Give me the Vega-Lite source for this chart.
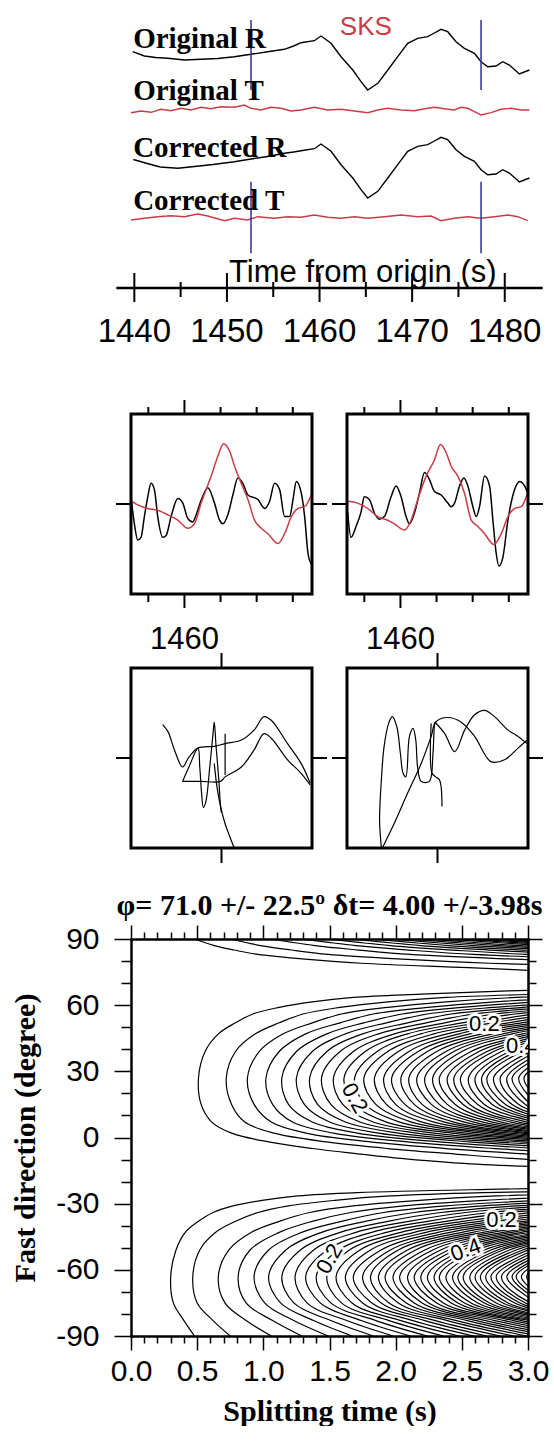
{
"$schema": "https://vega.github.io/schema/vega-lite/v6.json",
"background": "white",
"padding": {"left": 10, "top": 0, "right": 0, "bottom": 0},
"autosize": {"type": "pad"},
"config": {"view": {"stroke": null}, "axis": {"grid": false, "labelColor": "black", "tickColor": "black", "domainColor": "black", "titleColor": "black"}},
"spacing": 0,
"bounds": "flush",
"datasets": {
"traces": [
{"s":"OR","t":1439.83,"v":23.63},{"s":"OR","t":1441.08,"v":23.2},{"s":"OR","t":1442.3,"v":23.05},{"s":"OR","t":1443.61,"v":22.97},{"s":"OR","t":1445.4,"v":22.8},{"s":"OR","t":1447.2,"v":22.87},{"s":"OR","t":1449.0,"v":22.95},{"s":"OR","t":1450.8,"v":23.13},{"s":"OR","t":1452.6,"v":23.37},{"s":"OR","t":1454.41,"v":23.63},{"s":"OR","t":1456.2,"v":23.87},{"s":"OR","t":1457.2,"v":24.2},{"s":"OR","t":1458.0,"v":24.53},{"s":"OR","t":1459.44,"v":24.73},{"s":"OR","t":1460.16,"v":25.2},{"s":"OR","t":1461.24,"v":24.47},{"s":"OR","t":1462.32,"v":23.13},{"s":"OR","t":1463.59,"v":21.8},{"s":"OR","t":1464.48,"v":20.63},{"s":"OR","t":1465.2,"v":19.8},{"s":"OR","t":1466.29,"v":20.47},{"s":"OR","t":1467.37,"v":21.8},{"s":"OR","t":1468.44,"v":23.13},{"s":"OR","t":1469.52,"v":24.47},{"s":"OR","t":1470.6,"v":24.97},{"s":"OR","t":1471.68,"v":25.13},{"s":"OR","t":1472.4,"v":25.5},{"s":"OR","t":1473.12,"v":25.87},{"s":"OR","t":1473.84,"v":25.63},{"s":"OR","t":1474.74,"v":24.63},{"s":"OR","t":1475.64,"v":23.97},{"s":"OR","t":1476.72,"v":23.47},{"s":"OR","t":1477.44,"v":22.63},{"s":"OR","t":1478.16,"v":22.13},{"s":"OR","t":1479.06,"v":22.2},{"s":"OR","t":1479.78,"v":22.63},{"s":"OR","t":1480.5,"v":22.3},{"s":"OR","t":1481.58,"v":21.4},{"s":"OR","t":1482.66,"v":21.8},
{"s":"OT","t":1439.64,"v":17.53},{"s":"OT","t":1440.72,"v":17.7},{"s":"OT","t":1441.8,"v":17.57},{"s":"OT","t":1442.88,"v":17.87},{"s":"OT","t":1443.96,"v":17.73},{"s":"OT","t":1445.04,"v":17.97},{"s":"OT","t":1446.12,"v":17.8},{"s":"OT","t":1447.2,"v":18.07},{"s":"OT","t":1448.28,"v":17.93},{"s":"OT","t":1449.36,"v":18.13},{"s":"OT","t":1450.8,"v":18.07},{"s":"OT","t":1451.88,"v":18.3},{"s":"OT","t":1452.6,"v":17.97},{"s":"OT","t":1453.68,"v":17.8},{"s":"OT","t":1454.76,"v":18.07},{"s":"OT","t":1455.84,"v":17.97},{"s":"OT","t":1456.92,"v":17.7},{"s":"OT","t":1458.0,"v":17.8},{"s":"OT","t":1459.44,"v":18.07},{"s":"OT","t":1460.88,"v":17.8},{"s":"OT","t":1462.32,"v":17.87},{"s":"OT","t":1463.76,"v":17.7},{"s":"OT","t":1465.2,"v":17.53},{"s":"OT","t":1466.28,"v":17.8},{"s":"OT","t":1467.36,"v":17.97},{"s":"OT","t":1468.8,"v":17.8},{"s":"OT","t":1470.24,"v":17.73},{"s":"OT","t":1471.68,"v":17.97},{"s":"OT","t":1472.4,"v":18.07},{"s":"OT","t":1473.48,"v":17.93},{"s":"OT","t":1474.56,"v":17.8},{"s":"OT","t":1475.28,"v":18.07},{"s":"OT","t":1476.0,"v":17.97},{"s":"OT","t":1476.72,"v":17.63},{"s":"OT","t":1477.44,"v":17.3},{"s":"OT","t":1478.52,"v":17.53},{"s":"OT","t":1479.6,"v":17.87},{"s":"OT","t":1480.68,"v":17.97},{"s":"OT","t":1481.76,"v":17.8},{"s":"OT","t":1482.66,"v":17.8},
{"s":"CR","t":1439.9,"v":12.85},{"s":"CR","t":1441.2,"v":12.5},{"s":"CR","t":1442.8,"v":12.1},{"s":"CR","t":1444.69,"v":11.97},{"s":"CR","t":1446.5,"v":12.15},{"s":"CR","t":1448.5,"v":12.35},{"s":"CR","t":1450.8,"v":12.63},{"s":"CR","t":1452.6,"v":12.9},{"s":"CR","t":1454.4,"v":13.15},{"s":"CR","t":1456.2,"v":13.47},{"s":"CR","t":1457.2,"v":13.6},{"s":"CR","t":1458.0,"v":13.73},{"s":"CR","t":1459.44,"v":13.93},{"s":"CR","t":1460.16,"v":14.4},{"s":"CR","t":1461.24,"v":13.67},{"s":"CR","t":1462.32,"v":12.33},{"s":"CR","t":1463.59,"v":11.0},{"s":"CR","t":1464.48,"v":9.83},{"s":"CR","t":1465.2,"v":9.0},{"s":"CR","t":1466.29,"v":9.67},{"s":"CR","t":1467.37,"v":11.0},{"s":"CR","t":1468.44,"v":12.33},{"s":"CR","t":1469.52,"v":13.67},{"s":"CR","t":1470.6,"v":14.17},{"s":"CR","t":1471.68,"v":14.33},{"s":"CR","t":1472.4,"v":14.7},{"s":"CR","t":1473.12,"v":15.07},{"s":"CR","t":1473.84,"v":14.83},{"s":"CR","t":1474.74,"v":13.83},{"s":"CR","t":1475.64,"v":13.17},{"s":"CR","t":1476.72,"v":12.67},{"s":"CR","t":1477.44,"v":11.83},{"s":"CR","t":1478.16,"v":11.33},{"s":"CR","t":1479.06,"v":11.4},{"s":"CR","t":1479.78,"v":11.83},{"s":"CR","t":1480.5,"v":11.5},{"s":"CR","t":1481.58,"v":10.6},{"s":"CR","t":1482.66,"v":11.0},
{"s":"CT","t":1439.64,"v":6.8},{"s":"CT","t":1441.08,"v":6.97},{"s":"CT","t":1442.52,"v":7.13},{"s":"CT","t":1443.96,"v":7.23},{"s":"CT","t":1445.4,"v":7.13},{"s":"CT","t":1446.84,"v":7.4},{"s":"CT","t":1447.92,"v":7.2},{"s":"CT","t":1449.72,"v":6.73},{"s":"CT","t":1450.8,"v":6.97},{"s":"CT","t":1452.24,"v":6.8},{"s":"CT","t":1453.32,"v":7.13},{"s":"CT","t":1455.12,"v":6.97},{"s":"CT","t":1456.56,"v":7.13},{"s":"CT","t":1458.0,"v":7.07},{"s":"CT","t":1459.44,"v":7.3},{"s":"CT","t":1460.88,"v":7.07},{"s":"CT","t":1462.32,"v":6.97},{"s":"CT","t":1463.76,"v":7.13},{"s":"CT","t":1465.2,"v":6.97},{"s":"CT","t":1467.0,"v":7.13},{"s":"CT","t":1468.8,"v":7.3},{"s":"CT","t":1470.6,"v":7.13},{"s":"CT","t":1472.04,"v":7.2},{"s":"CT","t":1473.12,"v":6.73},{"s":"CT","t":1474.56,"v":6.97},{"s":"CT","t":1476.0,"v":7.13},{"s":"CT","t":1477.44,"v":6.97},{"s":"CT","t":1478.88,"v":7.13},{"s":"CT","t":1480.32,"v":7.3},{"s":"CT","t":1481.4,"v":7.13},{"s":"CT","t":1482.48,"v":6.73}
],
"blue": [{"t":1452.6,"v1":26.8,"v2":19.8},{"t":1477.44,"v1":26.8,"v2":19.8},{"t":1452.6,"v1":10.63,"v2":3.47},{"t":1477.44,"v1":10.63,"v2":3.47}],
"axisrange": [{"start":1440,"end":1480,"v":0}],
"tmajor": [{"t":1440},{"t":1450},{"t":1460},{"t":1470},{"t":1480}],
"tminor": [{"t":1445},{"t":1455},{"t":1465},{"t":1475}],
"tlabels": [{"label":"Original R","t":1439.87,"v":24.03},{"label":"Original T","t":1439.87,"v":18.8},{"label":"Corrected R","t":1439.87,"v":13.1},{"label":"Corrected T","t":1439.87,"v":7.8}],
"phase": [{"label":"SKS","t":1465.0,"v":25.3}],
"xtitle": [{"label":"Time from origin (s)","t":1450.23,"v":0.6}],
"win1": [{"t0":1452.6,"t1":1477.66,"a0":-1,"a1":1}],
"r1major": [{"t":1460}],
"r1minor": [{"t":1455},{"t":1465},{"t":1470},{"t":1475}],
"win2": [{"x0":-1,"x1":1,"y0":-1,"y1":1}],
"r1a_k": [{"t":1452.70,"a":0.01},{"t":1453.07,"a":-0.22},{"t":1453.53,"a":-0.40},{"t":1453.99,"a":-0.37},{"t":1454.45,"a":-0.14},{"t":1454.92,"a":0.08},{"t":1455.38,"a":0.23},{"t":1455.84,"a":0.16},{"t":1456.30,"a":-0.14},{"t":1457.00,"a":-0.37},{"t":1457.46,"a":-0.35},{"t":1458.15,"a":-0.14},{"t":1459.08,"a":0.06},{"t":1459.77,"a":0.01},{"t":1460.46,"a":-0.16},{"t":1461.16,"a":-0.20},{"t":1461.62,"a":-0.12},{"t":1462.31,"a":0.04},{"t":1463.24,"a":0.18},{"t":1464.16,"a":0.01},{"t":1464.86,"a":-0.18},{"t":1465.32,"a":-0.22},{"t":1466.01,"a":-0.12},{"t":1466.70,"a":0.10},{"t":1467.40,"a":0.29},{"t":1468.09,"a":0.23},{"t":1468.79,"a":0.10},{"t":1470.17,"a":0.05},{"t":1471.10,"a":-0.05},{"t":1471.79,"a":0.03},{"t":1472.48,"a":0.23},{"t":1473.18,"a":0.16},{"t":1473.87,"a":-0.14},{"t":1474.56,"a":-0.14},{"t":1475.03,"a":0.05},{"t":1475.49,"a":0.25},{"t":1476.18,"a":0.12},{"t":1476.64,"a":-0.14},{"t":1477.11,"a":-0.55},{"t":1477.57,"a":-0.67}],
"r1a_r": [{"t":1452.70,"a":0.03},{"t":1453.53,"a":-0.01},{"t":1454.92,"a":-0.05},{"t":1456.30,"a":-0.07},{"t":1457.69,"a":-0.12},{"t":1459.08,"a":-0.18},{"t":1460.46,"a":-0.27},{"t":1461.39,"a":-0.22},{"t":1462.31,"a":0.01},{"t":1463.70,"a":0.31},{"t":1464.62,"a":0.53},{"t":1465.41,"a":0.67},{"t":1466.24,"a":0.59},{"t":1466.94,"a":0.42},{"t":1467.86,"a":0.23},{"t":1468.79,"a":0.05},{"t":1469.71,"a":-0.18},{"t":1470.63,"a":-0.27},{"t":1471.56,"a":-0.33},{"t":1472.95,"a":-0.44},{"t":1473.87,"a":-0.33},{"t":1474.80,"a":-0.14},{"t":1475.72,"a":-0.05},{"t":1476.64,"a":-0.03},{"t":1477.66,"a":0.12}],
"r1b_k": [{"t":1452.69,"a":-0.09},{"t":1453.15,"a":-0.37},{"t":1453.85,"a":-0.25},{"t":1454.54,"a":-0.09},{"t":1455.00,"a":0.08},{"t":1455.70,"a":0.05},{"t":1456.39,"a":-0.10},{"t":1457.08,"a":-0.17},{"t":1457.78,"a":-0.14},{"t":1458.70,"a":0.08},{"t":1459.40,"a":0.20},{"t":1460.09,"a":0.08},{"t":1460.78,"a":-0.14},{"t":1461.24,"a":-0.22},{"t":1461.94,"a":-0.10},{"t":1462.63,"a":0.12},{"t":1463.33,"a":0.35},{"t":1464.02,"a":0.27},{"t":1464.71,"a":0.14},{"t":1465.64,"a":0.10},{"t":1466.56,"a":0.01},{"t":1467.02,"a":-0.03},{"t":1467.49,"a":0.01},{"t":1468.18,"a":0.20},{"t":1468.78,"a":0.29},{"t":1469.34,"a":0.20},{"t":1470.03,"a":-0.03},{"t":1470.49,"a":-0.14},{"t":1470.95,"a":-0.03},{"t":1471.65,"a":0.31},{"t":1472.34,"a":0.20},{"t":1472.80,"a":-0.18},{"t":1473.26,"a":-0.55},{"t":1473.63,"a":-0.69},{"t":1474.19,"a":-0.59},{"t":1474.88,"a":-0.18},{"t":1475.81,"a":0.16},{"t":1476.50,"a":0.25},{"t":1477.19,"a":0.20},{"t":1477.66,"a":0.12}],
"r1b_r": [{"t":1452.69,"a":0.03},{"t":1454.08,"a":0.01},{"t":1455.47,"a":-0.05},{"t":1456.85,"a":-0.14},{"t":1458.24,"a":-0.18},{"t":1459.16,"a":-0.22},{"t":1460.55,"a":-0.29},{"t":1461.48,"a":-0.18},{"t":1462.40,"a":0.05},{"t":1463.56,"a":0.31},{"t":1464.71,"a":0.49},{"t":1465.54,"a":0.66},{"t":1466.33,"a":0.57},{"t":1467.02,"a":0.42},{"t":1467.95,"a":0.31},{"t":1468.87,"a":0.12},{"t":1469.80,"a":-0.18},{"t":1470.72,"a":-0.25},{"t":1471.65,"a":-0.33},{"t":1472.94,"a":-0.45},{"t":1473.96,"a":-0.33},{"t":1474.88,"a":-0.14},{"t":1475.81,"a":-0.05},{"t":1476.73,"a":-0.03},{"t":1477.66,"a":0.14}],
"r2a": [{"g":"a","o":1,"x":-0.65,"y":0.37},{"g":"a","o":2,"x":-0.59,"y":0.29},{"g":"a","o":3,"x":-0.52,"y":0.09},{"g":"a","o":4,"x":-0.43,"y":-0.10},{"g":"a","o":5,"x":-0.36,"y":0.01},{"g":"a","o":6,"x":-0.26,"y":0.11},{"g":"a","o":7,"x":-0.08,"y":0.13},{"g":"a","o":8,"x":0.04,"y":0.16},{"g":"a","o":9,"x":0.22,"y":0.20},{"g":"a","o":10,"x":0.36,"y":0.31},{"g":"a","o":11,"x":0.47,"y":0.46},{"g":"a","o":12,"x":0.55,"y":0.42},{"g":"a","o":13,"x":0.73,"y":0.16},{"g":"a","o":14,"x":0.88,"y":-0.06},{"g":"a","o":15,"x":0.98,"y":-0.28},
{"g":"b","o":1,"x":-0.43,"y":-0.26},{"g":"b","o":2,"x":-0.23,"y":-0.26},{"g":"b","o":3,"x":-0.01,"y":-0.26},{"g":"b","o":4,"x":0.04,"y":-0.21},{"g":"b","o":5,"x":0.22,"y":-0.10},{"g":"b","o":6,"x":0.36,"y":0.09},{"g":"b","o":7,"x":0.47,"y":0.27},{"g":"b","o":8,"x":0.55,"y":0.22},{"g":"b","o":9,"x":0.73,"y":-0.02},{"g":"b","o":10,"x":0.88,"y":-0.17},{"g":"b","o":11,"x":0.98,"y":-0.30},
{"g":"c","o":1,"x":-0.43,"y":-0.26},{"g":"c","o":2,"x":-0.36,"y":-0.10},{"g":"c","o":3,"x":-0.26,"y":0.11},{"g":"c","o":4,"x":-0.24,"y":-0.10},{"g":"c","o":5,"x":-0.22,"y":-0.39},{"g":"c","o":6,"x":-0.20,"y":-0.55},{"g":"c","o":7,"x":-0.17,"y":-0.47},{"g":"c","o":8,"x":-0.13,"y":-0.10},{"g":"c","o":9,"x":-0.09,"y":0.31},{"g":"c","o":10,"x":-0.08,"y":0.40},{"g":"c","o":11,"x":-0.06,"y":0.13},{"g":"c","o":12,"x":-0.03,"y":-0.24},{"g":"c","o":13,"x":-0.01,"y":-0.54},{"g":"c","o":14,"x":0.00,"y":-0.61},
{"g":"d","o":1,"x":-0.08,"y":-0.06},{"g":"d","o":2,"x":-0.05,"y":-0.32},{"g":"d","o":3,"x":-0.01,"y":-0.54},{"g":"d","o":4,"x":0.04,"y":-0.73},{"g":"d","o":5,"x":0.09,"y":-0.87},{"g":"d","o":6,"x":0.14,"y":-1.0},
{"g":"e","o":1,"x":0.04,"y":0.27},{"g":"e","o":2,"x":0.04,"y":-0.19}],
"r2b": [{"g":"a","o":1,"x":-0.62,"y":-1.0},{"g":"a","o":2,"x":-0.64,"y":-0.69},{"g":"a","o":3,"x":-0.62,"y":-0.24},{"g":"a","o":4,"x":-0.59,"y":0.13},{"g":"a","o":5,"x":-0.54,"y":0.385},{"g":"a","o":6,"x":-0.50,"y":0.46},{"g":"a","o":7,"x":-0.45,"y":0.35},{"g":"a","o":8,"x":-0.41,"y":0.05},{"g":"a","o":9,"x":-0.38,"y":-0.17},{"g":"a","o":10,"x":-0.35,"y":-0.21},{"g":"a","o":11,"x":-0.31,"y":0.24},{"g":"a","o":12,"x":-0.27,"y":0.33},{"g":"a","o":13,"x":-0.24,"y":0.20},{"g":"a","o":14,"x":-0.22,"y":-0.10},{"g":"a","o":15,"x":-0.18,"y":-0.26},{"g":"a","o":16,"x":-0.09,"y":-0.26},{"g":"a","o":17,"x":-0.05,"y":0.05},{"g":"a","o":18,"x":-0.03,"y":0.385},{"g":"a","o":19,"x":-0.02,"y":0.40},
{"g":"b","o":1,"x":-0.61,"y":-1.0},{"g":"b","o":2,"x":-0.48,"y":-0.73},{"g":"b","o":3,"x":-0.33,"y":-0.39},{"g":"b","o":4,"x":-0.18,"y":-0.06},{"g":"b","o":5,"x":-0.07,"y":0.24},{"g":"b","o":6,"x":-0.02,"y":0.40},{"g":"b","o":7,"x":0.11,"y":0.45},{"g":"b","o":8,"x":0.26,"y":0.40},{"g":"b","o":9,"x":0.41,"y":0.24},{"g":"b","o":10,"x":0.59,"y":-0.04},{"g":"b","o":11,"x":0.74,"y":-0.02},{"g":"b","o":12,"x":0.89,"y":0.11},{"g":"b","o":13,"x":0.99,"y":0.20},
{"g":"c","o":1,"x":-0.03,"y":0.40},{"g":"c","o":2,"x":0.08,"y":0.27},{"g":"c","o":3,"x":0.19,"y":0.07},{"g":"c","o":4,"x":0.30,"y":0.31},{"g":"c","o":5,"x":0.41,"y":0.48},{"g":"c","o":6,"x":0.52,"y":0.53},{"g":"c","o":7,"x":0.63,"y":0.46},{"g":"c","o":8,"x":0.78,"y":0.31},{"g":"c","o":9,"x":0.89,"y":0.24},{"g":"c","o":10,"x":0.99,"y":0.16},
{"g":"d","o":1,"x":-0.07,"y":0.385},{"g":"d","o":2,"x":-0.06,"y":-0.17},{"g":"d","o":3,"x":-0.02,"y":-0.21},{"g":"d","o":4,"x":0.02,"y":-0.24},{"g":"d","o":5,"x":0.04,"y":-0.32},{"g":"d","o":6,"x":0.05,"y":-0.54}],
"contours": [
{"c":"L0","p":-90,"d":0.48},{"c":"L0","p":-83,"d":0.40},{"c":"L0","p":-75,"d":0.32},{"c":"L0","p":-63,"d":0.30},{"c":"L0","p":-51,"d":0.34},{"c":"L0","p":-43,"d":0.41},{"c":"L0","p":-38,"d":0.51},{"c":"L0","p":-34,"d":0.62},{"c":"L0","p":-31,"d":0.77},{"c":"L0","p":-28.5,"d":0.99},{"c":"L0","p":-26.5,"d":1.26},{"c":"L0","p":-25,"d":1.71},{"c":"L0","p":-23.5,"d":2.7},{"c":"L0","p":-22,"d":4.2},
{"c":"L0b","p":75,"d":3.3},{"c":"L0b","p":77,"d":2.55},{"c":"L0b","p":79,"d":1.74},{"c":"L0b","p":81,"d":1.29},{"c":"L0b","p":83,"d":0.96},{"c":"L0b","p":85,"d":0.78},{"c":"L0b","p":87,"d":0.63},{"c":"L0b","p":90,"d":0.48},
{"c":"L1","p":-90,"d":0.75},{"c":"L1","p":-83,"d":0.62},{"c":"L1","p":-75,"d":0.50},{"c":"L1","p":-63,"d":0.467},{"c":"L1","p":-51,"d":0.52},{"c":"L1","p":-43,"d":0.64},{"c":"L1","p":-38,"d":0.79},{"c":"L1","p":-34,"d":0.96},{"c":"L1","p":-31,"d":1.19},{"c":"L1","p":-28.5,"d":1.54},{"c":"L1","p":-26.5,"d":1.96},{"c":"L1","p":-25,"d":2.66},{"c":"L1","p":-23.5,"d":4.2},
{"c":"L1b","p":77,"d":3.97},{"c":"L1b","p":79,"d":2.71},{"c":"L1b","p":81,"d":2.01},{"c":"L1b","p":83,"d":1.49},{"c":"L1b","p":85,"d":1.21},{"c":"L1b","p":87,"d":0.98},{"c":"L1b","p":90,"d":0.75},
{"c":"L2","p":-90,"d":1.06},{"c":"L2","p":-83,"d":0.87},{"c":"L2","p":-75,"d":0.71},{"c":"L2","p":-63,"d":0.66},{"c":"L2","p":-51,"d":0.74},{"c":"L2","p":-43,"d":0.91},{"c":"L2","p":-38,"d":1.12},{"c":"L2","p":-34,"d":1.35},{"c":"L2","p":-31,"d":1.68},{"c":"L2","p":-28.5,"d":2.18},{"c":"L2","p":-26.5,"d":2.77},{"c":"L2","p":-25,"d":3.76},
{"c":"L2b","p":79,"d":3.83},{"c":"L2b","p":81,"d":2.84},{"c":"L2b","p":83,"d":2.11},{"c":"L2b","p":85,"d":1.72},{"c":"L2b","p":87,"d":1.39},{"c":"L2b","p":90,"d":1.06},
{"c":"L3","p":-90,"d":1.29},{"c":"L3","p":-83,"d":1.07},{"c":"L3","p":-75,"d":0.87},{"c":"L3","p":-63,"d":0.81},{"c":"L3","p":-51,"d":0.90},{"c":"L3","p":-43,"d":1.12},{"c":"L3","p":-38,"d":1.37},{"c":"L3","p":-34,"d":1.66},{"c":"L3","p":-31,"d":2.06},{"c":"L3","p":-28.5,"d":2.67},{"c":"L3","p":-26.5,"d":3.39},
{"c":"L3b","p":81,"d":3.47},{"c":"L3b","p":83,"d":2.59},{"c":"L3b","p":85,"d":2.10},{"c":"L3b","p":87,"d":1.70},{"c":"L3b","p":90,"d":1.29},
{"c":"L4","p":-90,"d":1.49},{"c":"L4","p":-83,"d":1.23},{"c":"L4","p":-75,"d":1.01},{"c":"L4","p":-63,"d":0.93},{"c":"L4","p":-51,"d":1.04},{"c":"L4","p":-43,"d":1.29},{"c":"L4","p":-38,"d":1.59},{"c":"L4","p":-34,"d":1.91},{"c":"L4","p":-31,"d":2.38},{"c":"L4","p":-28.5,"d":3.08},
{"c":"L4b","p":81,"d":4.01},{"c":"L4b","p":83,"d":2.99},{"c":"L4b","p":85,"d":2.43},{"c":"L4b","p":87,"d":1.96},{"c":"L4b","p":90,"d":1.49},
{"c":"L5","p":-90,"d":1.67},{"c":"L5","p":-83,"d":1.38},{"c":"L5","p":-75,"d":1.13},{"c":"L5","p":-63,"d":1.04},{"c":"L5","p":-51,"d":1.17},{"c":"L5","p":-43,"d":1.44},{"c":"L5","p":-38,"d":1.77},{"c":"L5","p":-34,"d":2.14},{"c":"L5","p":-31,"d":2.66},{"c":"L5","p":-28.5,"d":3.45},
{"c":"L5b","p":83,"d":3.34},{"c":"L5b","p":85,"d":2.71},{"c":"L5b","p":87,"d":2.19},{"c":"L5b","p":90,"d":1.67},
{"c":"L6","p":-90,"d":1.83},{"c":"L6","p":-83,"d":1.51},{"c":"L6","p":-75,"d":1.23},{"c":"L6","p":-63,"d":1.14},{"c":"L6","p":-51,"d":1.28},{"c":"L6","p":-43,"d":1.58},{"c":"L6","p":-38,"d":1.94},{"c":"L6","p":-34,"d":2.34},{"c":"L6","p":-31,"d":2.91},{"c":"L6","p":-28.5,"d":3.77},
{"c":"L6b","p":83,"d":3.66},{"c":"L6b","p":85,"d":2.97},{"c":"L6b","p":87,"d":2.40},{"c":"L6b","p":90,"d":1.83},
{"c":"L7","p":-90,"d":1.98},{"c":"L7","p":-83,"d":1.63},{"c":"L7","p":-75,"d":1.33},{"c":"L7","p":-63,"d":1.24},{"c":"L7","p":-51,"d":1.38},{"c":"L7","p":-43,"d":1.70},{"c":"L7","p":-38,"d":2.10},{"c":"L7","p":-34,"d":2.53},{"c":"L7","p":-31,"d":3.15},
{"c":"L7b","p":85,"d":3.21},{"c":"L7b","p":87,"d":2.59},{"c":"L7b","p":90,"d":1.98},
{"c":"L8","p":-90,"d":2.11},{"c":"L8","p":-83,"d":1.74},{"c":"L8","p":-75,"d":1.43},{"c":"L8","p":-63,"d":1.32},{"c":"L8","p":-51,"d":1.48},{"c":"L8","p":-43,"d":1.82},{"c":"L8","p":-38,"d":2.24},{"c":"L8","p":-34,"d":2.71},{"c":"L8","p":-31,"d":3.37},
{"c":"L8b","p":85,"d":3.43},{"c":"L8b","p":87,"d":2.77},{"c":"L8b","p":90,"d":2.11},
{"c":"L9","p":-90,"d":2.24},{"c":"L9","p":-83,"d":1.85},{"c":"L9","p":-75,"d":1.51},{"c":"L9","p":-63,"d":1.40},{"c":"L9","p":-51,"d":1.57},{"c":"L9","p":-43,"d":1.93},{"c":"L9","p":-38,"d":2.38},{"c":"L9","p":-34,"d":2.87},{"c":"L9","p":-31,"d":3.57},
{"c":"L9b","p":85,"d":3.64},{"c":"L9b","p":87,"d":2.94},{"c":"L9b","p":90,"d":2.24},
{"c":"L10","p":-90,"d":2.36},{"c":"L10","p":-83,"d":1.95},{"c":"L10","p":-75,"d":1.59},{"c":"L10","p":-63,"d":1.48},{"c":"L10","p":-51,"d":1.65},{"c":"L10","p":-43,"d":2.04},{"c":"L10","p":-38,"d":2.51},{"c":"L10","p":-34,"d":3.03},
{"c":"L10b","p":87,"d":3.10},{"c":"L10b","p":90,"d":2.36},
{"c":"L11","p":-90,"d":2.48},{"c":"L11","p":-83,"d":2.04},{"c":"L11","p":-75,"d":1.67},{"c":"L11","p":-63,"d":1.55},{"c":"L11","p":-51,"d":1.73},{"c":"L11","p":-43,"d":2.14},{"c":"L11","p":-38,"d":2.63},{"c":"L11","p":-34,"d":3.17},
{"c":"L11b","p":87,"d":3.25},{"c":"L11b","p":90,"d":2.48},
{"c":"L12","p":-90,"d":2.59},{"c":"L12","p":-83,"d":2.13},{"c":"L12","p":-75,"d":1.75},{"c":"L12","p":-63,"d":1.62},{"c":"L12","p":-51,"d":1.81},{"c":"L12","p":-43,"d":2.23},{"c":"L12","p":-38,"d":2.75},{"c":"L12","p":-34,"d":3.31},
{"c":"L12b","p":87,"d":3.40},{"c":"L12b","p":90,"d":2.59},
{"c":"L13","p":-90,"d":2.69},{"c":"L13","p":-83,"d":2.22},{"c":"L13","p":-75,"d":1.82},{"c":"L13","p":-63,"d":1.68},{"c":"L13","p":-51,"d":1.89},{"c":"L13","p":-43,"d":2.32},{"c":"L13","p":-38,"d":2.86},{"c":"L13","p":-34,"d":3.45},
{"c":"L13b","p":87,"d":3.53},{"c":"L13b","p":90,"d":2.69},
{"c":"L14","p":-90,"d":2.79},{"c":"L14","p":-83,"d":2.30},{"c":"L14","p":-75,"d":1.89},{"c":"L14","p":-63,"d":1.75},{"c":"L14","p":-51,"d":1.96},{"c":"L14","p":-43,"d":2.41},{"c":"L14","p":-38,"d":2.97},{"c":"L14","p":-34,"d":3.58},
{"c":"L14b","p":87,"d":3.67},{"c":"L14b","p":90,"d":2.79},
{"c":"L15","p":-90,"d":2.89},{"c":"L15","p":-83,"d":2.39},{"c":"L15","p":-75,"d":1.95},{"c":"L15","p":-63,"d":1.81},{"c":"L15","p":-51,"d":2.02},{"c":"L15","p":-43,"d":2.50},{"c":"L15","p":-38,"d":3.07},
{"c":"L15b","p":87,"d":3.80},{"c":"L15b","p":90,"d":2.89},
{"c":"L16","p":-90,"d":2.99},{"c":"L16","p":-83,"d":2.46},{"c":"L16","p":-75,"d":2.02},{"c":"L16","p":-63,"d":1.87},{"c":"L16","p":-51,"d":2.09},{"c":"L16","p":-43,"d":2.58},{"c":"L16","p":-38,"d":3.17},
{"c":"L16b","p":87,"d":3.92},{"c":"L16b","p":90,"d":2.99},
{"c":"L17","p":-90,"d":3.08},{"c":"L17","p":-83,"d":2.54},{"c":"L17","p":-75,"d":2.08},{"c":"L17","p":-63,"d":1.92},{"c":"L17","p":-51,"d":2.15},{"c":"L17","p":-43,"d":2.66},{"c":"L17","p":-38,"d":3.27},
{"c":"L18","p":-90,"d":3.17},{"c":"L18","p":-83,"d":2.61},{"c":"L18","p":-75,"d":2.14},{"c":"L18","p":-63,"d":1.98},{"c":"L18","p":-51,"d":2.22},{"c":"L18","p":-43,"d":2.73},{"c":"L18","p":-38,"d":3.37},
{"c":"L19","p":-90,"d":3.25},{"c":"L19","p":-83,"d":2.68},{"c":"L19","p":-75,"d":2.20},{"c":"L19","p":-63,"d":2.03},{"c":"L19","p":-51,"d":2.28},{"c":"L19","p":-43,"d":2.81},{"c":"L19","p":-38,"d":3.46},
{"c":"L20","p":-90,"d":3.34},{"c":"L20","p":-83,"d":2.75},{"c":"L20","p":-75,"d":2.25},{"c":"L20","p":-63,"d":2.09},{"c":"L20","p":-51,"d":2.34},{"c":"L20","p":-43,"d":2.88},{"c":"L20","p":-38,"d":3.55},
{"c":"L21","p":-90,"d":3.42},{"c":"L21","p":-83,"d":2.82},{"c":"L21","p":-75,"d":2.31},{"c":"L21","p":-63,"d":2.14},{"c":"L21","p":-51,"d":2.40},{"c":"L21","p":-43,"d":2.95},{"c":"L21","p":-38,"d":3.64},
{"c":"L22","p":-90,"d":3.50},{"c":"L22","p":-83,"d":2.89},{"c":"L22","p":-75,"d":2.36},{"c":"L22","p":-63,"d":2.19},{"c":"L22","p":-51,"d":2.45},{"c":"L22","p":-43,"d":3.02},
{"c":"L23","p":-90,"d":3.58},{"c":"L23","p":-83,"d":2.95},{"c":"L23","p":-75,"d":2.42},{"c":"L23","p":-63,"d":2.24},{"c":"L23","p":-51,"d":2.51},{"c":"L23","p":-43,"d":3.09},
{"c":"L24","p":-83,"d":3.02},{"c":"L24","p":-75,"d":2.47},{"c":"L24","p":-63,"d":2.29},{"c":"L24","p":-51,"d":2.56},{"c":"L24","p":-43,"d":3.15},
{"c":"L25","p":-83,"d":3.08},{"c":"L25","p":-75,"d":2.52},{"c":"L25","p":-63,"d":2.33},{"c":"L25","p":-51,"d":2.61},{"c":"L25","p":-43,"d":3.22},
{"c":"L26","p":-83,"d":3.14},{"c":"L26","p":-75,"d":2.57},{"c":"L26","p":-63,"d":2.38},{"c":"L26","p":-51,"d":2.67},{"c":"L26","p":-43,"d":3.28},
{"c":"L27","p":-83,"d":3.20},{"c":"L27","p":-75,"d":2.62},{"c":"L27","p":-63,"d":2.43},{"c":"L27","p":-51,"d":2.72},{"c":"L27","p":-43,"d":3.35},
{"c":"L28","p":-83,"d":3.26},{"c":"L28","p":-75,"d":2.67},{"c":"L28","p":-63,"d":2.47},{"c":"L28","p":-51,"d":2.77},{"c":"L28","p":-43,"d":3.41},
{"c":"L29","p":-83,"d":3.32},{"c":"L29","p":-75,"d":2.71},{"c":"L29","p":-63,"d":2.51},{"c":"L29","p":-51,"d":2.81},{"c":"L29","p":-43,"d":3.47},
{"c":"L30","p":-83,"d":3.37},{"c":"L30","p":-75,"d":2.76},{"c":"L30","p":-63,"d":2.56},{"c":"L30","p":-51,"d":2.86},{"c":"L30","p":-43,"d":3.53},
{"c":"L31","p":-83,"d":3.43},{"c":"L31","p":-75,"d":2.81},{"c":"L31","p":-63,"d":2.60},{"c":"L31","p":-51,"d":2.91},{"c":"L31","p":-43,"d":3.59},
{"c":"L32","p":-83,"d":3.48},{"c":"L32","p":-75,"d":2.85},{"c":"L32","p":-63,"d":2.64},{"c":"L32","p":-51,"d":2.96},{"c":"L32","p":-43,"d":3.64},
{"c":"L33","p":-83,"d":3.54},{"c":"L33","p":-75,"d":2.90},{"c":"L33","p":-63,"d":2.68},{"c":"L33","p":-51,"d":3.00},{"c":"L33","p":-43,"d":3.70},
{"c":"L34","p":-83,"d":3.59},{"c":"L34","p":-75,"d":2.94},{"c":"L34","p":-63,"d":2.72},{"c":"L34","p":-51,"d":3.05},
{"c":"L35","p":-83,"d":3.64},{"c":"L35","p":-75,"d":2.98},{"c":"L35","p":-63,"d":2.76},{"c":"L35","p":-51,"d":3.09},
{"c":"L36","p":-83,"d":3.70},{"c":"L36","p":-75,"d":3.02},{"c":"L36","p":-63,"d":2.80},{"c":"L36","p":-51,"d":3.14},
{"c":"L37","p":-75,"d":3.07},{"c":"L37","p":-63,"d":2.84},{"c":"L37","p":-51,"d":3.18},
{"c":"L38","p":-75,"d":3.11},{"c":"L38","p":-63,"d":2.88},{"c":"L38","p":-51,"d":3.22},
{"c":"L39","p":-75,"d":3.15},{"c":"L39","p":-63,"d":2.91},{"c":"L39","p":-51,"d":3.26},
{"c":"L40","p":-75,"d":3.19},{"c":"L40","p":-63,"d":2.95},{"c":"L40","p":-51,"d":3.31},
{"c":"L41","p":-75,"d":3.23},{"c":"L41","p":-63,"d":2.99},{"c":"L41","p":-51,"d":3.35},
{"c":"U1","p":-15,"d":3.82},{"c":"U1","p":-13,"d":2.95},{"c":"U1","p":-11.5,"d":2.44},{"c":"U1","p":-9.5,"d":2.04},{"c":"U1","p":-7.5,"d":1.73},{"c":"U1","p":-5,"d":1.37},{"c":"U1","p":-2,"d":1.04},{"c":"U1","p":2,"d":0.76},{"c":"U1","p":7,"d":0.61},{"c":"U1","p":15,"d":0.53},{"c":"U1","p":27,"d":0.51},{"c":"U1","p":39,"d":0.56},{"c":"U1","p":47,"d":0.66},{"c":"U1","p":52,"d":0.79},{"c":"U1","p":56,"d":0.92},{"c":"U1","p":59,"d":1.12},{"c":"U1","p":61.5,"d":1.37},{"c":"U1","p":63.5,"d":1.68},{"c":"U1","p":65,"d":2.19},{"c":"U1","p":66.5,"d":2.85},{"c":"U1","p":68,"d":3.82},
{"c":"U2","p":-11.5,"d":3.46},{"c":"U2","p":-9.5,"d":2.88},{"c":"U2","p":-7.5,"d":2.45},{"c":"U2","p":-5,"d":1.94},{"c":"U2","p":-2,"d":1.48},{"c":"U2","p":2,"d":1.08},{"c":"U2","p":7,"d":0.86},{"c":"U2","p":15,"d":0.76},{"c":"U2","p":27,"d":0.72},{"c":"U2","p":39,"d":0.79},{"c":"U2","p":47,"d":0.94},{"c":"U2","p":52,"d":1.12},{"c":"U2","p":56,"d":1.30},{"c":"U2","p":59,"d":1.58},{"c":"U2","p":61.5,"d":1.94},{"c":"U2","p":63.5,"d":2.38},{"c":"U2","p":65,"d":3.10},
{"c":"U3","p":-9.5,"d":3.53},{"c":"U3","p":-7.5,"d":3.0},{"c":"U3","p":-5,"d":2.38},{"c":"U3","p":-2,"d":1.81},{"c":"U3","p":2,"d":1.32},{"c":"U3","p":7,"d":1.06},{"c":"U3","p":15,"d":0.93},{"c":"U3","p":27,"d":0.88},{"c":"U3","p":39,"d":0.97},{"c":"U3","p":47,"d":1.15},{"c":"U3","p":52,"d":1.37},{"c":"U3","p":56,"d":1.59},{"c":"U3","p":59,"d":1.94},{"c":"U3","p":61.5,"d":2.38},{"c":"U3","p":63.5,"d":2.91},{"c":"U3","p":65,"d":3.79},
{"c":"U4","p":-7.5,"d":3.46},{"c":"U4","p":-5,"d":2.75},{"c":"U4","p":-2,"d":2.09},{"c":"U4","p":2,"d":1.53},{"c":"U4","p":7,"d":1.22},{"c":"U4","p":15,"d":1.07},{"c":"U4","p":27,"d":1.02},{"c":"U4","p":39,"d":1.12},{"c":"U4","p":47,"d":1.32},{"c":"U4","p":52,"d":1.58},{"c":"U4","p":56,"d":1.83},{"c":"U4","p":59,"d":2.24},{"c":"U4","p":61.5,"d":2.75},{"c":"U4","p":63.5,"d":3.36},
{"c":"U5","p":-5,"d":3.07},{"c":"U5","p":-2,"d":2.33},{"c":"U5","p":2,"d":1.71},{"c":"U5","p":7,"d":1.37},{"c":"U5","p":15,"d":1.19},{"c":"U5","p":27,"d":1.14},{"c":"U5","p":39,"d":1.25},{"c":"U5","p":47,"d":1.48},{"c":"U5","p":52,"d":1.76},{"c":"U5","p":56,"d":2.05},{"c":"U5","p":59,"d":2.50},{"c":"U5","p":61.5,"d":3.07},
{"c":"U6","p":-5,"d":3.37},{"c":"U6","p":-2,"d":2.56},{"c":"U6","p":2,"d":1.87},{"c":"U6","p":7,"d":1.50},{"c":"U6","p":15,"d":1.31},{"c":"U6","p":27,"d":1.25},{"c":"U6","p":39,"d":1.37},{"c":"U6","p":47,"d":1.62},{"c":"U6","p":52,"d":1.93},{"c":"U6","p":56,"d":2.24},{"c":"U6","p":59,"d":2.74},{"c":"U6","p":61.5,"d":3.37},
{"c":"U7","p":-5,"d":3.64},{"c":"U7","p":-2,"d":2.76},{"c":"U7","p":2,"d":2.02},{"c":"U7","p":7,"d":1.62},{"c":"U7","p":15,"d":1.41},{"c":"U7","p":27,"d":1.35},{"c":"U7","p":39,"d":1.48},{"c":"U7","p":47,"d":1.75},{"c":"U7","p":52,"d":2.09},{"c":"U7","p":56,"d":2.42},{"c":"U7","p":59,"d":2.96},{"c":"U7","p":61.5,"d":3.64},
{"c":"U8","p":-5,"d":3.89},{"c":"U8","p":-2,"d":2.95},{"c":"U8","p":2,"d":2.16},{"c":"U8","p":7,"d":1.73},{"c":"U8","p":15,"d":1.51},{"c":"U8","p":27,"d":1.44},{"c":"U8","p":39,"d":1.58},{"c":"U8","p":47,"d":1.87},{"c":"U8","p":52,"d":2.23},{"c":"U8","p":56,"d":2.59},{"c":"U8","p":59,"d":3.17},
{"c":"U9","p":-2,"d":3.13},{"c":"U9","p":2,"d":2.29},{"c":"U9","p":7,"d":1.83},{"c":"U9","p":15,"d":1.60},{"c":"U9","p":27,"d":1.53},{"c":"U9","p":39,"d":1.68},{"c":"U9","p":47,"d":1.99},{"c":"U9","p":52,"d":2.37},{"c":"U9","p":56,"d":2.75},{"c":"U9","p":59,"d":3.36},
{"c":"U10","p":-2,"d":3.30},{"c":"U10","p":2,"d":2.42},{"c":"U10","p":7,"d":1.93},{"c":"U10","p":15,"d":1.69},{"c":"U10","p":27,"d":1.61},{"c":"U10","p":39,"d":1.77},{"c":"U10","p":47,"d":2.09},{"c":"U10","p":52,"d":2.50},{"c":"U10","p":56,"d":2.90},{"c":"U10","p":59,"d":3.54},
{"c":"U11","p":-2,"d":3.46},{"c":"U11","p":2,"d":2.53},{"c":"U11","p":7,"d":2.03},{"c":"U11","p":15,"d":1.77},{"c":"U11","p":27,"d":1.69},{"c":"U11","p":39,"d":1.86},{"c":"U11","p":47,"d":2.19},{"c":"U11","p":52,"d":2.62},{"c":"U11","p":56,"d":3.04},
{"c":"U12","p":-2,"d":3.62},{"c":"U12","p":2,"d":2.65},{"c":"U12","p":7,"d":2.12},{"c":"U12","p":15,"d":1.85},{"c":"U12","p":27,"d":1.76},{"c":"U12","p":39,"d":1.94},{"c":"U12","p":47,"d":2.29},{"c":"U12","p":52,"d":2.73},{"c":"U12","p":56,"d":3.18},
{"c":"U13","p":-2,"d":3.76},{"c":"U13","p":2,"d":2.75},{"c":"U13","p":7,"d":2.20},{"c":"U13","p":15,"d":1.93},{"c":"U13","p":27,"d":1.84},{"c":"U13","p":39,"d":2.02},{"c":"U13","p":47,"d":2.39},{"c":"U13","p":52,"d":2.85},{"c":"U13","p":56,"d":3.30},
{"c":"U14","p":-2,"d":3.91},{"c":"U14","p":2,"d":2.86},{"c":"U14","p":7,"d":2.29},{"c":"U14","p":15,"d":2.00},{"c":"U14","p":27,"d":1.91},{"c":"U14","p":39,"d":2.10},{"c":"U14","p":47,"d":2.48},{"c":"U14","p":52,"d":2.95},{"c":"U14","p":56,"d":3.43},
{"c":"U15","p":-2,"d":4.04},{"c":"U15","p":2,"d":2.96},{"c":"U15","p":7,"d":2.37},{"c":"U15","p":15,"d":2.07},{"c":"U15","p":27,"d":1.97},{"c":"U15","p":39,"d":2.17},{"c":"U15","p":47,"d":2.56},{"c":"U15","p":52,"d":3.06},
{"c":"U16","p":2,"d":3.05},{"c":"U16","p":7,"d":2.44},{"c":"U16","p":15,"d":2.14},{"c":"U16","p":27,"d":2.04},{"c":"U16","p":39,"d":2.24},{"c":"U16","p":47,"d":2.65},{"c":"U16","p":52,"d":3.16},
{"c":"U17","p":2,"d":3.15},{"c":"U17","p":7,"d":2.52},{"c":"U17","p":15,"d":2.20},{"c":"U17","p":27,"d":2.10},{"c":"U17","p":39,"d":2.31},{"c":"U17","p":47,"d":2.73},{"c":"U17","p":52,"d":3.25},
{"c":"U18","p":2,"d":3.24},{"c":"U18","p":7,"d":2.59},{"c":"U18","p":15,"d":2.27},{"c":"U18","p":27,"d":2.16},{"c":"U18","p":39,"d":2.38},{"c":"U18","p":47,"d":2.81},{"c":"U18","p":52,"d":3.35},
{"c":"U19","p":2,"d":3.33},{"c":"U19","p":7,"d":2.66},{"c":"U19","p":15,"d":2.33},{"c":"U19","p":27,"d":2.22},{"c":"U19","p":39,"d":2.44},{"c":"U19","p":47,"d":2.88},{"c":"U19","p":52,"d":3.44},
{"c":"U20","p":2,"d":3.42},{"c":"U20","p":7,"d":2.73},{"c":"U20","p":15,"d":2.39},{"c":"U20","p":27,"d":2.28},{"c":"U20","p":39,"d":2.50},{"c":"U20","p":47,"d":2.96},{"c":"U20","p":52,"d":3.53},
{"c":"U21","p":2,"d":3.50},{"c":"U21","p":7,"d":2.80},{"c":"U21","p":15,"d":2.45},{"c":"U21","p":27,"d":2.33},{"c":"U21","p":39,"d":2.57},{"c":"U21","p":47,"d":3.03},
{"c":"U22","p":2,"d":3.58},{"c":"U22","p":7,"d":2.87},{"c":"U22","p":15,"d":2.51},{"c":"U22","p":27,"d":2.39},{"c":"U22","p":39,"d":2.63},{"c":"U22","p":47,"d":3.10},
{"c":"U23","p":2,"d":3.66},{"c":"U23","p":7,"d":2.93},{"c":"U23","p":15,"d":2.56},{"c":"U23","p":27,"d":2.44},{"c":"U23","p":39,"d":2.69},{"c":"U23","p":47,"d":3.17},
{"c":"U24","p":2,"d":3.74},{"c":"U24","p":7,"d":2.99},{"c":"U24","p":15,"d":2.62},{"c":"U24","p":27,"d":2.49},{"c":"U24","p":39,"d":2.74},{"c":"U24","p":47,"d":3.24},
{"c":"U25","p":7,"d":3.06},{"c":"U25","p":15,"d":2.67},{"c":"U25","p":27,"d":2.55},{"c":"U25","p":39,"d":2.80},{"c":"U25","p":47,"d":3.31},
{"c":"U26","p":7,"d":3.12},{"c":"U26","p":15,"d":2.73},{"c":"U26","p":27,"d":2.60},{"c":"U26","p":39,"d":2.86},{"c":"U26","p":47,"d":3.37},
{"c":"U27","p":7,"d":3.17},{"c":"U27","p":15,"d":2.78},{"c":"U27","p":27,"d":2.65},{"c":"U27","p":39,"d":2.91},{"c":"U27","p":47,"d":3.44},
{"c":"U28","p":7,"d":3.23},{"c":"U28","p":15,"d":2.83},{"c":"U28","p":27,"d":2.69},{"c":"U28","p":39,"d":2.96},{"c":"U28","p":47,"d":3.50},
{"c":"U29","p":7,"d":3.29},{"c":"U29","p":15,"d":2.88},{"c":"U29","p":27,"d":2.74},{"c":"U29","p":39,"d":3.02},
{"c":"U30","p":7,"d":3.35},{"c":"U30","p":15,"d":2.93},{"c":"U30","p":27,"d":2.79},{"c":"U30","p":39,"d":3.07},
{"c":"U31","p":7,"d":3.40},{"c":"U31","p":15,"d":2.98},{"c":"U31","p":27,"d":2.84},{"c":"U31","p":39,"d":3.12},
{"c":"U32","p":15,"d":3.02},{"c":"U32","p":27,"d":2.88},{"c":"U32","p":39,"d":3.17},
{"c":"U33","p":15,"d":3.07},{"c":"U33","p":27,"d":2.93},{"c":"U33","p":39,"d":3.22},
{"c":"U34","p":15,"d":3.12},{"c":"U34","p":27,"d":2.97},{"c":"U34","p":39,"d":3.27}
],
"clab_flat": [{"d":2.67,"p":51.4,"txt":"0.2"},{"d":2.95,"p":41.5,"txt":"0.4"},{"d":2.8,"p":-37.4,"txt":"0.2"}],
"clab_u": [{"d":1.69,"p":17.9,"txt":"0.2"}],
"clab_l": [{"d":1.5,"p":-55,"txt":"0.2"}],
"clab_l4": [{"d":2.53,"p":-51,"txt":"0.4"}]
},
"vconcat": [
{
"width": 397, "height": 288,
"layer": [
{"data": {"name": "traces"}, "mark": {"type": "line", "strokeWidth": 1.4, "clip": false},
 "encoding": {
  "x": {"field": "t", "type": "quantitative", "scale": {"domain": [1439.64, 1482.51]}, "axis": null},
  "y": {"field": "v", "type": "quantitative", "scale": {"domain": [0, 28.8]}, "axis": null},
  "color": {"field": "s", "type": "nominal", "scale": {"domain": ["OR", "OT", "CR", "CT"], "range": ["#000000", "#c83c46", "#000000", "#c83c46"]}, "legend": null},
  "order": {"field": "t", "type": "quantitative"}}},
{"data": {"name": "blue"}, "mark": {"type": "rule", "color": "#3c3c96", "strokeWidth": 1.6, "clip": false},
 "encoding": {
  "x": {"field": "t", "type": "quantitative", "scale": {"domain": [1439.64, 1482.51]}, "axis": null},
  "y": {"field": "v1", "type": "quantitative", "scale": {"domain": [0, 28.8]}, "axis": null},
  "y2": {"field": "v2"}}},
{"data": {"name": "axisrange"}, "mark": {"type": "rule", "color": "black", "strokeWidth": 2.5, "clip": false, "xOffset": -18, "x2Offset": 38},
 "encoding": {
  "x": {"field": "start", "type": "quantitative", "scale": {"domain": [1439.64, 1482.51]}, "axis": null},
  "x2": {"field": "end"},
  "y": {"field": "v", "type": "quantitative", "scale": {"domain": [0, 28.8]}, "axis": null}}},
{"data": {"name": "tmajor"}, "mark": {"type": "rule", "color": "black", "strokeWidth": 2, "clip": false, "yOffset": -15, "y2Offset": 14},
 "encoding": {
  "x": {"field": "t", "type": "quantitative", "scale": {"domain": [1439.64, 1482.51]}, "axis": null},
  "y": {"datum": 0, "type": "quantitative", "scale": {"domain": [0, 28.8]}, "axis": null},
  "y2": {"datum": 0}}},
{"data": {"name": "tminor"}, "mark": {"type": "rule", "color": "black", "strokeWidth": 2, "clip": false, "yOffset": -6, "y2Offset": 9},
 "encoding": {
  "x": {"field": "t", "type": "quantitative", "scale": {"domain": [1439.64, 1482.51]}, "axis": null},
  "y": {"datum": 0, "type": "quantitative", "scale": {"domain": [0, 28.8]}, "axis": null},
  "y2": {"datum": 0}}},
{"data": {"name": "tmajor"}, "mark": {"type": "text", "align": "center", "baseline": "top", "font": "Liberation Sans", "fontSize": 33, "color": "black", "yOffset": 28},
 "encoding": {
  "x": {"field": "t", "type": "quantitative", "scale": {"domain": [1439.64, 1482.51]}, "axis": null},
  "y": {"datum": 0, "type": "quantitative", "scale": {"domain": [0, 28.8]}, "axis": null},
  "text": {"field": "t", "type": "quantitative", "format": "d"}}},
{"data": {"name": "tlabels"}, "mark": {"type": "text", "align": "left", "baseline": "alphabetic", "font": "Liberation Serif", "fontSize": 29, "fontWeight": "bold", "color": "black"},
 "encoding": {
  "x": {"field": "t", "type": "quantitative", "scale": {"domain": [1439.64, 1482.51]}, "axis": null},
  "y": {"field": "v", "type": "quantitative", "scale": {"domain": [0, 28.8]}, "axis": null},
  "text": {"field": "label"}}},
{"data": {"name": "phase"}, "mark": {"type": "text", "align": "center", "baseline": "alphabetic", "font": "Liberation Sans", "fontSize": 26, "color": "#c83c46"},
 "encoding": {
  "x": {"field": "t", "type": "quantitative", "scale": {"domain": [1439.64, 1482.51]}, "axis": null},
  "y": {"field": "v", "type": "quantitative", "scale": {"domain": [0, 28.8]}, "axis": null},
  "text": {"field": "label"}}},
{"data": {"name": "xtitle"}, "mark": {"type": "text", "align": "left", "baseline": "alphabetic", "font": "Liberation Sans", "fontSize": 31, "color": "black"},
 "encoding": {
  "x": {"field": "t", "type": "quantitative", "scale": {"domain": [1439.64, 1482.51]}, "axis": null},
  "y": {"field": "v", "type": "quantitative", "scale": {"domain": [0, 28.8]}, "axis": null},
  "text": {"field": "label"}}}
]
},
{"width": 397, "height": 126, "data": {"values": []}, "mark": "point", "encoding": {}},
{
"width": 397, "height": 180,
"resolve": {"scale": {"x": "independent"}},
"layer": [
{"data": {"name": "r1a_k"}, "mark": {"type": "line", "color": "black", "strokeWidth": 1.5, "interpolate": "monotone"},
 "encoding": {"x": {"field": "t", "type": "quantitative", "scale": {"domain": [1452.6, 1507.566]}, "axis": null}, "y": {"field": "a", "type": "quantitative", "scale": {"domain": [-1, 1]}, "axis": null}, "order": {"field": "t", "type": "quantitative"}}},
{"data": {"name": "r1a_r"}, "mark": {"type": "line", "color": "#c83c46", "strokeWidth": 1.5, "interpolate": "monotone"},
 "encoding": {"x": {"field": "t", "type": "quantitative", "scale": {"domain": [1452.6, 1507.566]}, "axis": null}, "y": {"field": "a", "type": "quantitative", "scale": {"domain": [-1, 1]}, "axis": null}, "order": {"field": "t", "type": "quantitative"}}},
{"data": {"name": "win1"}, "mark": {"type": "rect", "filled": false, "color": "black", "strokeWidth": 3},
 "encoding": {"x": {"field": "t0", "type": "quantitative", "scale": {"domain": [1452.6, 1507.566]}, "axis": null}, "x2": {"field": "t1"}, "y": {"field": "a0", "type": "quantitative", "scale": {"domain": [-1, 1]}, "axis": null}, "y2": {"field": "a1"}}},
{"data": {"name": "r1major"}, "mark": {"type": "rule", "color": "black", "strokeWidth": 2, "y2Offset": -14},
 "encoding": {"x": {"field": "t", "type": "quantitative", "scale": {"domain": [1452.6, 1507.566]}, "axis": null}, "y": {"datum": 1, "type": "quantitative", "scale": {"domain": [-1, 1]}, "axis": null}, "y2": {"datum": 1}}},
{"data": {"name": "r1minor"}, "mark": {"type": "rule", "color": "black", "strokeWidth": 2, "y2Offset": -7},
 "encoding": {"x": {"field": "t", "type": "quantitative", "scale": {"domain": [1452.6, 1507.566]}, "axis": null}, "y": {"datum": 1, "type": "quantitative", "scale": {"domain": [-1, 1]}, "axis": null}, "y2": {"datum": 1}}},
{"data": {"name": "r1major"}, "mark": {"type": "rule", "color": "black", "strokeWidth": 2, "y2Offset": 14},
 "encoding": {"x": {"field": "t", "type": "quantitative", "scale": {"domain": [1452.6, 1507.566]}, "axis": null}, "y": {"datum": -1, "type": "quantitative", "scale": {"domain": [-1, 1]}, "axis": null}, "y2": {"datum": -1}}},
{"data": {"name": "r1minor"}, "mark": {"type": "rule", "color": "black", "strokeWidth": 2, "y2Offset": 8},
 "encoding": {"x": {"field": "t", "type": "quantitative", "scale": {"domain": [1452.6, 1507.566]}, "axis": null}, "y": {"datum": -1, "type": "quantitative", "scale": {"domain": [-1, 1]}, "axis": null}, "y2": {"datum": -1}}},
{"data": {"name": "win1"}, "mark": {"type": "rule", "color": "black", "strokeWidth": 2, "x2Offset": -15},
 "encoding": {"x": {"field": "t0", "type": "quantitative", "scale": {"domain": [1452.6, 1507.566]}, "axis": null}, "x2": {"field": "t0"}, "y": {"datum": 0, "type": "quantitative", "scale": {"domain": [-1, 1]}, "axis": null}}},
{"data": {"name": "win1"}, "mark": {"type": "rule", "color": "black", "strokeWidth": 2, "x2Offset": 15},
 "encoding": {"x": {"field": "t1", "type": "quantitative", "scale": {"domain": [1452.6, 1507.566]}, "axis": null}, "x2": {"field": "t1"}, "y": {"datum": 0, "type": "quantitative", "scale": {"domain": [-1, 1]}, "axis": null}}},
{"data": {"name": "r1major"}, "mark": {"type": "text", "align": "center", "baseline": "top", "font": "Liberation Sans", "fontSize": 31, "color": "black", "yOffset": 31},
 "encoding": {"x": {"field": "t", "type": "quantitative", "scale": {"domain": [1452.6, 1507.566]}, "axis": null}, "y": {"datum": -1, "type": "quantitative", "scale": {"domain": [-1, 1]}, "axis": null}, "text": {"field": "t", "type": "quantitative", "format": "d"}}},
{"data": {"name": "r1b_k"}, "mark": {"type": "line", "color": "black", "strokeWidth": 1.5, "interpolate": "monotone"},
 "encoding": {"x": {"field": "t", "type": "quantitative", "scale": {"domain": [1422.694, 1477.66]}, "axis": null}, "y": {"field": "a", "type": "quantitative", "scale": {"domain": [-1, 1]}, "axis": null}, "order": {"field": "t", "type": "quantitative"}}},
{"data": {"name": "r1b_r"}, "mark": {"type": "line", "color": "#c83c46", "strokeWidth": 1.5, "interpolate": "monotone"},
 "encoding": {"x": {"field": "t", "type": "quantitative", "scale": {"domain": [1422.694, 1477.66]}, "axis": null}, "y": {"field": "a", "type": "quantitative", "scale": {"domain": [-1, 1]}, "axis": null}, "order": {"field": "t", "type": "quantitative"}}},
{"data": {"name": "win1"}, "mark": {"type": "rect", "filled": false, "color": "black", "strokeWidth": 3},
 "encoding": {"x": {"field": "t0", "type": "quantitative", "scale": {"domain": [1422.694, 1477.66]}, "axis": null}, "x2": {"field": "t1"}, "y": {"field": "a0", "type": "quantitative", "scale": {"domain": [-1, 1]}, "axis": null}, "y2": {"field": "a1"}}},
{"data": {"name": "r1major"}, "mark": {"type": "rule", "color": "black", "strokeWidth": 2, "y2Offset": -14},
 "encoding": {"x": {"field": "t", "type": "quantitative", "scale": {"domain": [1422.694, 1477.66]}, "axis": null}, "y": {"datum": 1, "type": "quantitative", "scale": {"domain": [-1, 1]}, "axis": null}, "y2": {"datum": 1}}},
{"data": {"name": "r1minor"}, "mark": {"type": "rule", "color": "black", "strokeWidth": 2, "y2Offset": -7},
 "encoding": {"x": {"field": "t", "type": "quantitative", "scale": {"domain": [1422.694, 1477.66]}, "axis": null}, "y": {"datum": 1, "type": "quantitative", "scale": {"domain": [-1, 1]}, "axis": null}, "y2": {"datum": 1}}},
{"data": {"name": "r1major"}, "mark": {"type": "rule", "color": "black", "strokeWidth": 2, "y2Offset": 14},
 "encoding": {"x": {"field": "t", "type": "quantitative", "scale": {"domain": [1422.694, 1477.66]}, "axis": null}, "y": {"datum": -1, "type": "quantitative", "scale": {"domain": [-1, 1]}, "axis": null}, "y2": {"datum": -1}}},
{"data": {"name": "r1minor"}, "mark": {"type": "rule", "color": "black", "strokeWidth": 2, "y2Offset": 8},
 "encoding": {"x": {"field": "t", "type": "quantitative", "scale": {"domain": [1422.694, 1477.66]}, "axis": null}, "y": {"datum": -1, "type": "quantitative", "scale": {"domain": [-1, 1]}, "axis": null}, "y2": {"datum": -1}}},
{"data": {"name": "win1"}, "mark": {"type": "rule", "color": "black", "strokeWidth": 2, "x2Offset": -15},
 "encoding": {"x": {"field": "t0", "type": "quantitative", "scale": {"domain": [1422.694, 1477.66]}, "axis": null}, "x2": {"field": "t0"}, "y": {"datum": 0, "type": "quantitative", "scale": {"domain": [-1, 1]}, "axis": null}}},
{"data": {"name": "win1"}, "mark": {"type": "rule", "color": "black", "strokeWidth": 2, "x2Offset": 15},
 "encoding": {"x": {"field": "t1", "type": "quantitative", "scale": {"domain": [1422.694, 1477.66]}, "axis": null}, "x2": {"field": "t1"}, "y": {"datum": 0, "type": "quantitative", "scale": {"domain": [-1, 1]}, "axis": null}}},
{"data": {"name": "r1major"}, "mark": {"type": "text", "align": "center", "baseline": "top", "font": "Liberation Sans", "fontSize": 31, "color": "black", "yOffset": 31},
 "encoding": {"x": {"field": "t", "type": "quantitative", "scale": {"domain": [1422.694, 1477.66]}, "axis": null}, "y": {"datum": -1, "type": "quantitative", "scale": {"domain": [-1, 1]}, "axis": null}, "text": {"field": "t", "type": "quantitative", "format": "d"}}}
]
},
{"width": 397, "height": 74, "data": {"values": []}, "mark": "point", "encoding": {}},
{
"width": 397, "height": 180,
"resolve": {"scale": {"x": "independent"}},
"layer": [
{"data": {"name": "r2a"}, "mark": {"type": "line", "color": "black", "strokeWidth": 1.2, "interpolate": "catmull-rom"},
 "encoding": {"x": {"field": "x", "type": "quantitative", "scale": {"domain": [-1, 3.3867]}, "axis": null}, "y": {"field": "y", "type": "quantitative", "scale": {"domain": [-1, 1]}, "axis": null}, "detail": {"field": "g"}, "order": {"field": "o", "type": "quantitative"}}},
{"data": {"name": "win2"}, "mark": {"type": "rect", "filled": false, "color": "black", "strokeWidth": 3},
 "encoding": {"x": {"field": "x0", "type": "quantitative", "scale": {"domain": [-1, 3.3867]}, "axis": null}, "x2": {"field": "x1"}, "y": {"field": "y0", "type": "quantitative", "scale": {"domain": [-1, 1]}, "axis": null}, "y2": {"field": "y1"}}},
{"data": {"name": "win2"}, "mark": {"type": "rule", "color": "black", "strokeWidth": 2, "y2Offset": -15},
 "encoding": {"x": {"datum": 0, "type": "quantitative", "scale": {"domain": [-1, 3.3867]}, "axis": null}, "y": {"datum": 1, "type": "quantitative", "scale": {"domain": [-1, 1]}, "axis": null}, "y2": {"datum": 1}}},
{"data": {"name": "win2"}, "mark": {"type": "rule", "color": "black", "strokeWidth": 2, "y2Offset": 15},
 "encoding": {"x": {"datum": 0, "type": "quantitative", "scale": {"domain": [-1, 3.3867]}, "axis": null}, "y": {"datum": -1, "type": "quantitative", "scale": {"domain": [-1, 1]}, "axis": null}, "y2": {"datum": -1}}},
{"data": {"name": "win2"}, "mark": {"type": "rule", "color": "black", "strokeWidth": 2, "x2Offset": -15},
 "encoding": {"x": {"field": "x0", "type": "quantitative", "scale": {"domain": [-1, 3.3867]}, "axis": null}, "x2": {"field": "x0"}, "y": {"datum": 0, "type": "quantitative", "scale": {"domain": [-1, 1]}, "axis": null}}},
{"data": {"name": "win2"}, "mark": {"type": "rule", "color": "black", "strokeWidth": 2, "x2Offset": 15},
 "encoding": {"x": {"field": "x1", "type": "quantitative", "scale": {"domain": [-1, 3.3867]}, "axis": null}, "x2": {"field": "x1"}, "y": {"datum": 0, "type": "quantitative", "scale": {"domain": [-1, 1]}, "axis": null}}},
{"data": {"name": "r2b"}, "mark": {"type": "line", "color": "black", "strokeWidth": 1.2, "interpolate": "catmull-rom"},
 "encoding": {"x": {"field": "x", "type": "quantitative", "scale": {"domain": [-3.3867, 1]}, "axis": null}, "y": {"field": "y", "type": "quantitative", "scale": {"domain": [-1, 1]}, "axis": null}, "detail": {"field": "g"}, "order": {"field": "o", "type": "quantitative"}}},
{"data": {"name": "win2"}, "mark": {"type": "rect", "filled": false, "color": "black", "strokeWidth": 3},
 "encoding": {"x": {"field": "x0", "type": "quantitative", "scale": {"domain": [-3.3867, 1]}, "axis": null}, "x2": {"field": "x1"}, "y": {"field": "y0", "type": "quantitative", "scale": {"domain": [-1, 1]}, "axis": null}, "y2": {"field": "y1"}}},
{"data": {"name": "win2"}, "mark": {"type": "rule", "color": "black", "strokeWidth": 2, "y2Offset": -15},
 "encoding": {"x": {"datum": 0, "type": "quantitative", "scale": {"domain": [-3.3867, 1]}, "axis": null}, "y": {"datum": 1, "type": "quantitative", "scale": {"domain": [-1, 1]}, "axis": null}, "y2": {"datum": 1}}},
{"data": {"name": "win2"}, "mark": {"type": "rule", "color": "black", "strokeWidth": 2, "y2Offset": 15},
 "encoding": {"x": {"datum": 0, "type": "quantitative", "scale": {"domain": [-3.3867, 1]}, "axis": null}, "y": {"datum": -1, "type": "quantitative", "scale": {"domain": [-1, 1]}, "axis": null}, "y2": {"datum": -1}}},
{"data": {"name": "win2"}, "mark": {"type": "rule", "color": "black", "strokeWidth": 2, "x2Offset": -15},
 "encoding": {"x": {"field": "x0", "type": "quantitative", "scale": {"domain": [-3.3867, 1]}, "axis": null}, "x2": {"field": "x0"}, "y": {"datum": 0, "type": "quantitative", "scale": {"domain": [-1, 1]}, "axis": null}}},
{"data": {"name": "win2"}, "mark": {"type": "rule", "color": "black", "strokeWidth": 2, "x2Offset": 15},
 "encoding": {"x": {"field": "x1", "type": "quantitative", "scale": {"domain": [-3.3867, 1]}, "axis": null}, "x2": {"field": "x1"}, "y": {"datum": 0, "type": "quantitative", "scale": {"domain": [-1, 1]}, "axis": null}}}
]
},
{"width": 397, "height": 91, "data": {"values": []}, "mark": "point", "encoding": {}},
{
"width": 397, "height": 397,
"title": {"text": "φ= 71.0 +/- 22.5º δt= 4.00 +/-3.98s", "font": "Liberation Serif", "fontSize": 30, "fontWeight": "bold", "color": "black", "offset": 3, "anchor": "middle"},
"resolve": {"axis": {"x": "independent", "y": "independent"}},
"layer": [
{"data": {"name": "contours"}, "mark": {"type": "line", "color": "black", "strokeWidth": 1.2, "clip": true, "interpolate": "catmull-rom"},
 "encoding": {
  "x": {"field": "d", "type": "quantitative", "scale": {"domain": [0, 3]}, "axis": {"orient": "bottom", "values": [0,0.1,0.2,0.3,0.4,0.5,0.6,0.7,0.8,0.9,1,1.1,1.2,1.3,1.4,1.5,1.6,1.7,1.8,1.9,2,2.1,2.2,2.3,2.4,2.5,2.6,2.7,2.8,2.9,3], "domain": true, "domainWidth": 2.5, "domainCap": "square", "ticks": true, "tickWidth": 1.5, "tickSize": {"condition": {"test": "abs(round(datum.value*10)) % 5 === 0", "value": 14}, "value": 7}, "labels": true, "labelExpr": "abs(round(datum.value*10)) % 5 === 0 ? format(datum.value, '.1f') : ''", "labelFont": "Liberation Sans", "labelFontSize": 30, "labelPadding": 6, "labelFlush": false, "labelOverlap": false, "title": "Splitting time (s)", "titleFont": "Liberation Serif", "titleFontSize": 30, "titleFontWeight": "bold", "titlePadding": 10, "grid": false}},
  "y": {"field": "p", "type": "quantitative", "scale": {"domain": [-90, 90]}, "axis": {"orient": "left", "values": [-90,-80,-70,-60,-50,-40,-30,-20,-10,0,10,20,30,40,50,60,70,80,90], "domain": true, "domainWidth": 2.5, "domainCap": "square", "ticks": true, "tickWidth": 1.5, "tickSize": {"condition": {"test": "datum.value % 30 === 0", "value": 17}, "value": 10}, "labels": true, "labelExpr": "datum.value % 30 === 0 ? '' + datum.value : ''", "labelFont": "Liberation Sans", "labelFontSize": 30, "labelPadding": 15, "labelFlush": false, "labelOverlap": false, "title": "Fast direction (degree)", "titleFont": "Liberation Serif", "titleFontSize": 30, "titleFontWeight": "bold", "titlePadding": 15, "grid": false}},
  "detail": {"field": "c"},
  "order": {"field": "p", "type": "quantitative"}}},
{"data": {"name": "clab_flat"}, "mark": {"type": "text", "font": "Liberation Sans", "fontSize": 22, "color": "white", "stroke": "white", "strokeWidth": 6, "clip": true},
 "encoding": {
  "x": {"field": "d", "type": "quantitative", "scale": {"domain": [0, 3]}, "axis": {"orient": "top", "values": [0,0.1,0.2,0.3,0.4,0.5,0.6,0.7,0.8,0.9,1,1.1,1.2,1.3,1.4,1.5,1.6,1.7,1.8,1.9,2,2.1,2.2,2.3,2.4,2.5,2.6,2.7,2.8,2.9,3], "domain": true, "domainWidth": 2.5, "domainCap": "square", "ticks": true, "tickWidth": 1.5, "tickSize": {"condition": {"test": "abs(round(datum.value*10)) % 5 === 0", "value": 14}, "value": 7}, "labels": false, "title": null, "grid": false}},
  "y": {"field": "p", "type": "quantitative", "scale": {"domain": [-90, 90]}, "axis": {"orient": "right", "values": [-90,-80,-70,-60,-50,-40,-30,-20,-10,0,10,20,30,40,50,60,70,80,90], "domain": true, "domainWidth": 2.5, "domainCap": "square", "ticks": true, "tickWidth": 1.5, "tickSize": {"condition": {"test": "datum.value % 30 === 0", "value": 14}, "value": 8}, "labels": false, "title": null, "grid": false}},
  "text": {"field": "txt"}}},
{"data": {"name": "clab_flat"}, "mark": {"type": "text", "font": "Liberation Sans", "fontSize": 22, "color": "black", "clip": true},
 "encoding": {
  "x": {"field": "d", "type": "quantitative", "scale": {"domain": [0, 3]}, "axis": null},
  "y": {"field": "p", "type": "quantitative", "scale": {"domain": [-90, 90]}, "axis": null},
  "text": {"field": "txt"}}},
{"data": {"name": "clab_u"}, "mark": {"type": "text", "font": "Liberation Sans", "fontSize": 22, "color": "white", "stroke": "white", "strokeWidth": 6, "angle": 60, "clip": true},
 "encoding": {
  "x": {"field": "d", "type": "quantitative", "scale": {"domain": [0, 3]}, "axis": null},
  "y": {"field": "p", "type": "quantitative", "scale": {"domain": [-90, 90]}, "axis": null},
  "text": {"field": "txt"}}},
{"data": {"name": "clab_u"}, "mark": {"type": "text", "font": "Liberation Sans", "fontSize": 22, "color": "black", "angle": 60, "clip": true},
 "encoding": {
  "x": {"field": "d", "type": "quantitative", "scale": {"domain": [0, 3]}, "axis": null},
  "y": {"field": "p", "type": "quantitative", "scale": {"domain": [-90, 90]}, "axis": null},
  "text": {"field": "txt"}}},
{"data": {"name": "clab_l"}, "mark": {"type": "text", "font": "Liberation Sans", "fontSize": 22, "color": "white", "stroke": "white", "strokeWidth": 6, "angle": -60, "clip": true},
 "encoding": {
  "x": {"field": "d", "type": "quantitative", "scale": {"domain": [0, 3]}, "axis": null},
  "y": {"field": "p", "type": "quantitative", "scale": {"domain": [-90, 90]}, "axis": null},
  "text": {"field": "txt"}}},
{"data": {"name": "clab_l"}, "mark": {"type": "text", "font": "Liberation Sans", "fontSize": 22, "color": "black", "angle": -60, "clip": true},
 "encoding": {
  "x": {"field": "d", "type": "quantitative", "scale": {"domain": [0, 3]}, "axis": null},
  "y": {"field": "p", "type": "quantitative", "scale": {"domain": [-90, 90]}, "axis": null},
  "text": {"field": "txt"}}},
{"data": {"name": "clab_l4"}, "mark": {"type": "text", "font": "Liberation Sans", "fontSize": 22, "color": "white", "stroke": "white", "strokeWidth": 6, "angle": -20, "clip": true},
 "encoding": {
  "x": {"field": "d", "type": "quantitative", "scale": {"domain": [0, 3]}, "axis": null},
  "y": {"field": "p", "type": "quantitative", "scale": {"domain": [-90, 90]}, "axis": null},
  "text": {"field": "txt"}}},
{"data": {"name": "clab_l4"}, "mark": {"type": "text", "font": "Liberation Sans", "fontSize": 22, "color": "black", "angle": -20, "clip": true},
 "encoding": {
  "x": {"field": "d", "type": "quantitative", "scale": {"domain": [0, 3]}, "axis": null},
  "y": {"field": "p", "type": "quantitative", "scale": {"domain": [-90, 90]}, "axis": null},
  "text": {"field": "txt"}}}
]
}
]
}
